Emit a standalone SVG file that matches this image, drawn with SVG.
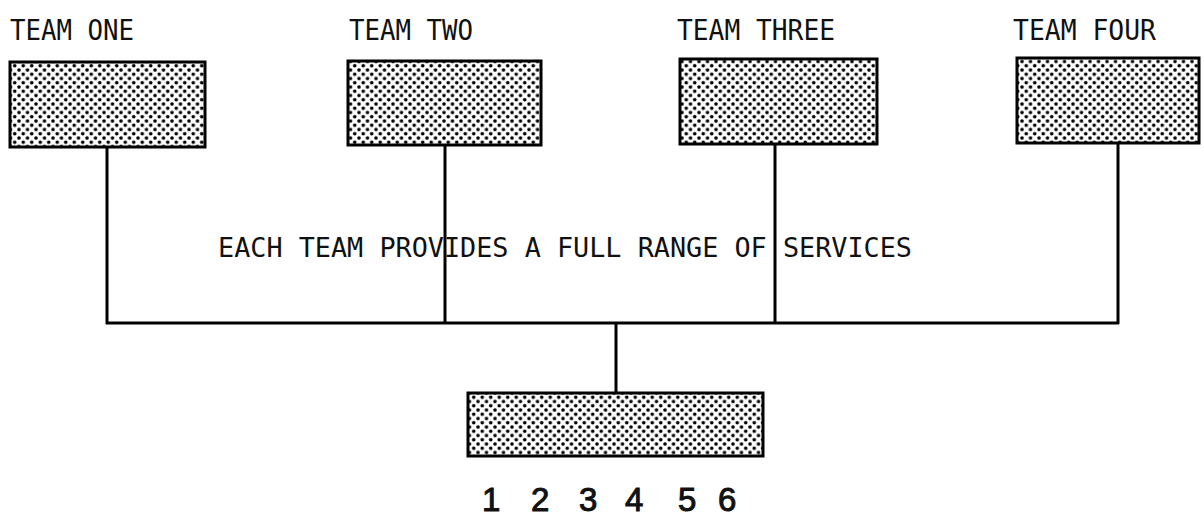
<svg xmlns="http://www.w3.org/2000/svg" width="1204" height="519" viewBox="0 0 1204 519">
  <defs>
    <pattern id="dots" width="8.5" height="8.5" patternUnits="userSpaceOnUse">
      <rect width="8.5" height="8.5" fill="#fff"/>
      <circle cx="2" cy="2" r="1.8" fill="#000"/>
      <circle cx="6.25" cy="6.25" r="1.8" fill="#000"/>
    </pattern>
  </defs>
  <style>
    .box { fill: url(#dots); stroke: #000; stroke-width: 3; }
    .lbl { font-family: "DejaVu Sans Mono", "Liberation Mono", monospace; font-size: 28px; fill: #111; }
    .note { font-size: 27px; }
    .num { font-family: "Liberation Sans", Arial, sans-serif; font-size: 33px; fill: #111; stroke: #111; stroke-width: 1; }
    .conn { stroke: #000; stroke-width: 3; fill: none; }
  </style>
  <rect width="1204" height="519" fill="#fff"/>

  <g id="connectors">
    <line class="conn" x1="107" y1="147" x2="107" y2="324"/>
    <line class="conn" x1="445" y1="145" x2="445" y2="324"/>
    <line class="conn" x1="775" y1="144" x2="775" y2="324"/>
    <line class="conn" x1="1118" y1="143" x2="1118" y2="324"/>
    <line class="conn" x1="106" y1="323" x2="1119" y2="323"/>
    <line class="conn" x1="616" y1="323" x2="616" y2="393"/>
  </g>

  <g id="team-one">
    <text class="lbl" x="10" y="40" textLength="124" lengthAdjust="spacingAndGlyphs">TEAM ONE</text>
    <rect class="box" x="10" y="62" width="195" height="85"/>
  </g>
  <g id="team-two">
    <text class="lbl" x="349" y="40" textLength="124" lengthAdjust="spacingAndGlyphs">TEAM TWO</text>
    <rect class="box" x="348" y="61" width="193" height="84"/>
  </g>
  <g id="team-three">
    <text class="lbl" x="677" y="40" textLength="158" lengthAdjust="spacingAndGlyphs">TEAM THREE</text>
    <rect class="box" x="680" y="59" width="197" height="85"/>
  </g>
  <g id="team-four">
    <text class="lbl" x="1013" y="40" textLength="143" lengthAdjust="spacingAndGlyphs">TEAM FOUR</text>
    <rect class="box" x="1017" y="58" width="182" height="85"/>
  </g>

  <g id="note">
    <text class="lbl note" x="218" y="257" textLength="694" lengthAdjust="spacingAndGlyphs">EACH TEAM PROVIDES A FULL RANGE OF SERVICES</text>
  </g>

  <g id="services">
    <rect class="box" x="468" y="393" width="295" height="63"/>
    <text class="num" x="482" y="511">1</text>
    <text class="num" x="531" y="511">2</text>
    <text class="num" x="579" y="511">3</text>
    <text class="num" x="625" y="511">4</text>
    <text class="num" x="678" y="511">5</text>
    <text class="num" x="718" y="511">6</text>
  </g>
</svg>
